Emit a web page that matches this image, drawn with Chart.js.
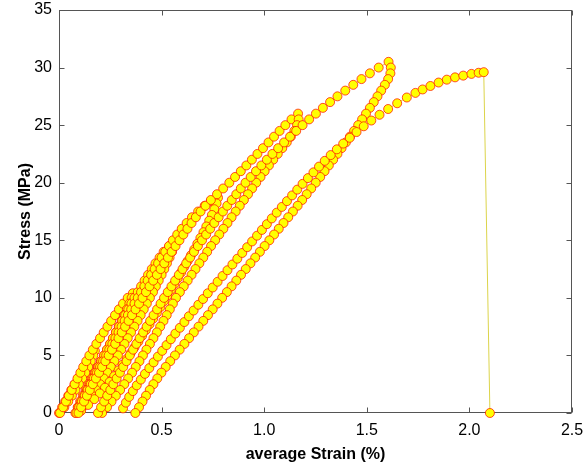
<!DOCTYPE html>
<html>
<head>
<meta charset="utf-8">
<script src="https://cdn.jsdelivr.net/npm/chart.js@4.4.1/dist/chart.umd.min.js"></script>
<style>
  html, body { margin: 0; padding: 0; background: #fff; }
  canvas { display: block; }
</style>
</head>
<body>
<canvas id="chart" width="586" height="467"></canvas>
<script>
// cyclic compression test: every cycle is a loading branch followed by its unloading branch
const cycle1Strain = [0, 0.015, 0.03, 0.045, 0.06, 0.076, 0.092, 0.108, 0.124, 0.141, 0.159, 0.175,
  0.167, 0.155, 0.142, 0.128, 0.113, 0.097, 0.08, 0.063, 0.045, 0.026, 0.005];
const cycle1Stress = [0, 0.5, 1, 1.5, 2, 2.5, 3, 3.5, 4, 4.5, 5, 5.4,
  5, 4.5, 4, 3.5, 3, 2.5, 2, 1.5, 1, 0.5, 0];

const cycle2Strain = [0.02, 0.034, 0.048, 0.062, 0.076, 0.09, 0.104, 0.118, 0.133, 0.148, 0.165, 0.182, 0.2, 0.218, 0.236, 0.254, 0.273, 0.292, 0.312, 0.335, 0.36,
  0.354, 0.343, 0.331, 0.318, 0.305, 0.291, 0.277, 0.263, 0.249, 0.234, 0.219, 0.204, 0.189, 0.174, 0.159, 0.144, 0.13, 0.116, 0.103, 0.091, 0.08];
const cycle2Stress = [0.5, 1, 1.5, 2, 2.5, 3, 3.5, 4, 4.5, 5, 5.5, 6, 6.5, 7, 7.5, 8, 8.5, 9, 9.5, 10, 10.4,
  10, 9.5, 9, 8.5, 8, 7.5, 7, 6.5, 6, 5.5, 5, 4.5, 4, 3.5, 3, 2.5, 2, 1.5, 1, 0.5, 0];

const cycle3Strain = [0.094, 0.108, 0.122, 0.136, 0.15, 0.164, 0.178, 0.192, 0.206, 0.22, 0.234, 0.249, 0.263, 0.278, 0.293, 0.308, 0.323, 0.338, 0.353, 0.368, 0.384, 0.4, 0.417, 0.434, 0.452, 0.47, 0.49, 0.51, 0.538, 0.57,
  0.562, 0.551, 0.539, 0.526, 0.513, 0.5, 0.486, 0.472, 0.458, 0.443, 0.428, 0.413, 0.398, 0.383, 0.367, 0.351, 0.335, 0.319, 0.303, 0.287, 0.27, 0.253, 0.236, 0.218, 0.2, 0.181, 0.161, 0.14, 0.113, 0.085];
const cycle3Stress = [0.5, 1, 1.5, 2, 2.5, 3, 3.5, 4, 4.5, 5, 5.5, 6, 6.5, 7, 7.5, 8, 8.5, 9, 9.5, 10, 10.5, 11, 11.5, 12, 12.5, 13, 13.5, 14, 14.5, 15,
  14.5, 14, 13.5, 13, 12.5, 12, 11.5, 11, 10.5, 10, 9.5, 9, 8.5, 8, 7.5, 7, 6.5, 6, 5.5, 5, 4.5, 4, 3.5, 3, 2.5, 2, 1.5, 1, 0.5, 0];

const cycle4Strain = [0.098, 0.112, 0.126, 0.14, 0.155, 0.17, 0.185, 0.2, 0.215, 0.23, 0.245, 0.26, 0.275, 0.29, 0.305, 0.32, 0.336, 0.352, 0.368, 0.384, 0.4, 0.416, 0.432, 0.449, 0.466, 0.483, 0.5, 0.518, 0.536, 0.555, 0.576, 0.598, 0.622, 0.648, 0.678, 0.71, 0.74, 0.775,
  0.768, 0.757, 0.745, 0.732, 0.718, 0.704, 0.689, 0.674, 0.659, 0.643, 0.627, 0.611, 0.595, 0.579, 0.562, 0.545, 0.528, 0.511, 0.494, 0.477, 0.459, 0.441, 0.423, 0.405, 0.387, 0.368, 0.349, 0.33, 0.31, 0.29, 0.269, 0.247, 0.224, 0.199, 0.172, 0.142, 0.108, 0.095];
const cycle4Stress = [0.5, 1, 1.5, 2, 2.5, 3, 3.5, 4, 4.5, 5, 5.5, 6, 6.5, 7, 7.5, 8, 8.5, 9, 9.5, 10, 10.5, 11, 11.5, 12, 12.5, 13, 13.5, 14, 14.5, 15, 15.5, 16, 16.5, 17, 17.5, 18, 18.4, 18.7,
  18.2, 17.7, 17.2, 16.7, 16.2, 15.7, 15.2, 14.7, 14.2, 13.7, 13.2, 12.7, 12.2, 11.7, 11.2, 10.7, 10.2, 9.7, 9.2, 8.7, 8.2, 7.7, 7.2, 6.7, 6.2, 5.7, 5.2, 4.7, 4.2, 3.7, 3.2, 2.7, 2.2, 1.7, 1.2, 0.7, 0.2, 0];

const cycle5Strain = [0.108, 0.122, 0.136, 0.15, 0.165, 0.18, 0.195, 0.21, 0.226, 0.242, 0.258, 0.274, 0.29, 0.306, 0.322, 0.339, 0.356, 0.373, 0.39, 0.407, 0.424, 0.441, 0.459, 0.477, 0.495, 0.513, 0.531, 0.549, 0.568, 0.587, 0.606, 0.626, 0.646, 0.667, 0.69, 0.714, 0.74, 0.77, 0.8, 0.83, 0.858, 0.886, 0.913, 0.94, 0.967, 0.994, 1.021, 1.048, 1.075, 1.103, 1.133, 1.165,
  1.168, 1.16, 1.147, 1.13, 1.11, 1.088, 1.066, 1.044, 1.023, 1.002, 0.982, 0.961, 0.941, 0.921, 0.901, 0.881, 0.861, 0.841, 0.821, 0.801, 0.781, 0.761, 0.741, 0.722, 0.703, 0.684, 0.665, 0.646, 0.627, 0.608, 0.589, 0.57, 0.555, 0.54, 0.525, 0.509, 0.493, 0.477, 0.46, 0.443, 0.426, 0.409, 0.392, 0.374, 0.356, 0.337, 0.318, 0.298, 0.277, 0.256, 0.234, 0.21];
const cycle5Stress = [0.5, 1, 1.5, 2, 2.5, 3, 3.5, 4, 4.5, 5, 5.5, 6, 6.5, 7, 7.5, 8, 8.5, 9, 9.5, 10, 10.5, 11, 11.5, 12, 12.5, 13, 13.5, 14, 14.5, 15, 15.5, 16, 16.5, 17, 17.5, 18, 18.5, 19, 19.5, 20, 20.5, 21, 21.5, 22, 22.5, 23, 23.5, 24, 24.5, 25, 25.5, 26,
  25.5, 25, 24.5, 24, 23.5, 23, 22.5, 22, 21.5, 21, 20.5, 20, 19.5, 19, 18.5, 18, 17.5, 17, 16.5, 16, 15.5, 15, 14.5, 14, 13.5, 13, 12.5, 12, 11.5, 11, 10.5, 10, 9.5, 9, 8.5, 8, 7.5, 7, 6.5, 6, 5.5, 5, 4.5, 4, 3.5, 3, 2.5, 2, 1.5, 1, 0.5, 0];

const cycle6Strain = [0.19, 0.205, 0.22, 0.235, 0.25, 0.265, 0.281, 0.297, 0.313, 0.329, 0.345, 0.361, 0.377, 0.393, 0.41, 0.427, 0.444, 0.461, 0.478, 0.495, 0.512, 0.53, 0.548, 0.566, 0.584, 0.602, 0.62, 0.639, 0.658, 0.677, 0.697, 0.717, 0.737, 0.757, 0.778, 0.799, 0.82, 0.842, 0.864, 0.886, 0.909, 0.934, 0.96, 0.986, 1.013, 1.04, 1.068, 1.097, 1.126, 1.156, 1.187, 1.219, 1.252, 1.286, 1.321, 1.357, 1.395, 1.434, 1.474, 1.515, 1.558, 1.606,
  1.617, 1.615, 1.604, 1.588, 1.57, 1.552, 1.534, 1.515, 1.496, 1.477, 1.458, 1.438, 1.418, 1.398, 1.377, 1.357, 1.336, 1.315, 1.294, 1.273, 1.251, 1.229, 1.207, 1.185, 1.163, 1.14, 1.117, 1.094, 1.071, 1.048, 1.025, 1.002, 0.979, 0.956, 0.933, 0.91, 0.887, 0.864, 0.841, 0.818, 0.795, 0.772, 0.749, 0.726, 0.703, 0.68, 0.657, 0.634, 0.611, 0.588, 0.565, 0.542, 0.52, 0.499, 0.479, 0.46, 0.442, 0.424, 0.407, 0.39, 0.372];
const cycle6Stress = [0, 0.5, 1, 1.5, 2, 2.5, 3, 3.5, 4, 4.5, 5, 5.5, 6, 6.5, 7, 7.5, 8, 8.5, 9, 9.5, 10, 10.5, 11, 11.5, 12, 12.5, 13, 13.5, 14, 14.5, 15, 15.5, 16, 16.5, 17, 17.5, 18, 18.5, 19, 19.5, 20, 20.5, 21, 21.5, 22, 22.5, 23, 23.5, 24, 24.5, 25, 25.5, 26, 26.5, 27, 27.5, 28, 28.5, 29, 29.5, 30, 30.5,
  30, 29.5, 29, 28.5, 28, 27.5, 27, 26.5, 26, 25.5, 25, 24.5, 24, 23.5, 23, 22.5, 22, 21.5, 21, 20.5, 20, 19.5, 19, 18.5, 18, 17.5, 17, 16.5, 16, 15.5, 15, 14.5, 14, 13.5, 13, 12.5, 12, 11.5, 11, 10.5, 10, 9.5, 9, 8.5, 8, 7.5, 7, 6.5, 6, 5.5, 5, 4.5, 4, 3.5, 3, 2.5, 2, 1.5, 1, 0.5, 0];

// last loading up to failure, then the drop
const finalStrain = [0.312, 0.326, 0.342, 0.36, 0.379, 0.399, 0.419, 0.44, 0.461, 0.482, 0.503, 0.524, 0.545, 0.567, 0.589, 0.611, 0.633, 0.656, 0.679, 0.702, 0.725, 0.749, 0.773, 0.797, 0.821, 0.845, 0.869, 0.893, 0.917, 0.941, 0.965, 0.989, 1.013, 1.037, 1.061, 1.086, 1.111, 1.136, 1.161, 1.187, 1.213, 1.24, 1.267, 1.295, 1.324, 1.354, 1.385, 1.417, 1.45, 1.485, 1.522, 1.562, 1.604, 1.648, 1.695,
  1.737, 1.772, 1.81, 1.85, 1.89, 1.93, 1.97, 2.01, 2.045, 2.07, 2.1];
const finalStress = [0.4, 0.9, 1.4, 1.9, 2.4, 2.9, 3.4, 3.9, 4.4, 4.9, 5.4, 5.9, 6.4, 6.9, 7.4, 7.9, 8.4, 8.9, 9.4, 9.9, 10.4, 10.9, 11.4, 11.9, 12.4, 12.9, 13.4, 13.9, 14.4, 14.9, 15.4, 15.9, 16.4, 16.9, 17.4, 17.9, 18.4, 18.9, 19.4, 19.9, 20.4, 20.9, 21.4, 21.9, 22.4, 22.9, 23.4, 23.9, 24.4, 24.9, 25.4, 25.9, 26.4, 26.9, 27.4,
  27.8, 28.1, 28.4, 28.7, 28.95, 29.15, 29.3, 29.45, 29.55, 29.6, 0];

const xTicks = [0, 0.5, 1, 1.5, 2, 2.5];
const yTicks = [0, 5, 10, 15, 20, 25, 30, 35];

const segments = [
  [cycle1Strain, cycle1Stress], [cycle2Strain, cycle2Stress], [cycle3Strain, cycle3Stress],
  [cycle4Strain, cycle4Stress], [cycle5Strain, cycle5Stress], [cycle6Strain, cycle6Stress],
  [finalStrain, finalStress]
];
const points = [];
segments.forEach(([sx, sy]) => sx.forEach((x, i) => points.push({x: x, y: sy[i]})));

const FONT = "'Liberation Sans', Arial, Helvetica, sans-serif";

// matlab style box with inward ticks on all four sides
const boxAxes = {
  id: 'boxAxes',
  beforeDatasetsDraw(chart) {
    const {ctx, chartArea: a, scales} = chart;
    const L = Math.round(a.left) + 0.5, R = Math.round(a.right) - 0.5;
    const T = Math.round(a.top) + 0.5, B = Math.round(a.bottom) - 0.5;
    const len = 5;
    ctx.save();
    ctx.strokeStyle = '#555';
    ctx.lineWidth = 1;
    ctx.strokeRect(L, T, R - L, B - T);
    ctx.beginPath();
    xTicks.forEach(v => {
      const px = Math.round(scales.x.getPixelForValue(v)) + 0.5;
      ctx.moveTo(px, B); ctx.lineTo(px, B - len);
      ctx.moveTo(px, T); ctx.lineTo(px, T + len);
    });
    yTicks.forEach(v => {
      const py = Math.round(scales.y.getPixelForValue(v)) + 0.5;
      ctx.moveTo(L, py); ctx.lineTo(L + len, py);
      ctx.moveTo(R, py); ctx.lineTo(R - len, py);
    });
    ctx.stroke();
    ctx.restore();
  }
};

new Chart(document.getElementById('chart'), {
  type: 'scatter',
  data: {
    datasets: [{
      data: points,
      showLine: true,
      borderColor: '#dcd44a',
      borderWidth: 1,
      pointRadius: 4.5,
      pointBorderWidth: 1,
      pointBackgroundColor: '#ffff00',
      pointBorderColor: 'rgba(255,20,0,0.75)',
      clip: false
    }]
  },
  options: {
    responsive: false,
    animation: false,
    events: [],
    devicePixelRatio: 1,
    layout: {padding: {left: 0, top: 10, right: 14, bottom: 0}},
    plugins: {legend: {display: false}, tooltip: {enabled: false}},
    scales: {
      x: {
        type: 'linear',
        min: 0, max: 2.5,
        afterBuildTicks: s => { s.ticks = xTicks.map(v => ({value: v})); },
        afterFit: s => { s.height = 54; s.paddingLeft = 0; s.paddingRight = 0; },
        grid: {display: false, drawTicks: false},
        border: {display: false},
        ticks: {color: '#000', padding: 8, font: {family: FONT, size: 16}},
        title: {display: true, text: 'average Strain (%)', color: '#000',
          padding: {top: 0, bottom: 3}, font: {family: FONT, size: 16, weight: 'bold'}}
      },
      y: {
        min: 0, max: 35,
        afterBuildTicks: s => { s.ticks = yTicks.map(v => ({value: v})); },
        afterFit: s => { s.width = 59; s.paddingTop = 0; s.paddingBottom = 0; },
        grid: {display: false, drawTicks: false},
        border: {display: false},
        ticks: {color: '#000', padding: 7, font: {family: FONT, size: 16}},
        title: {display: true, text: 'Stress (MPa)', color: '#000',
          padding: {top: 16, bottom: 0}, font: {family: FONT, size: 16, weight: 'bold'}}
      }
    }
  },
  plugins: [boxAxes]
});
</script>
</body>
</html>
